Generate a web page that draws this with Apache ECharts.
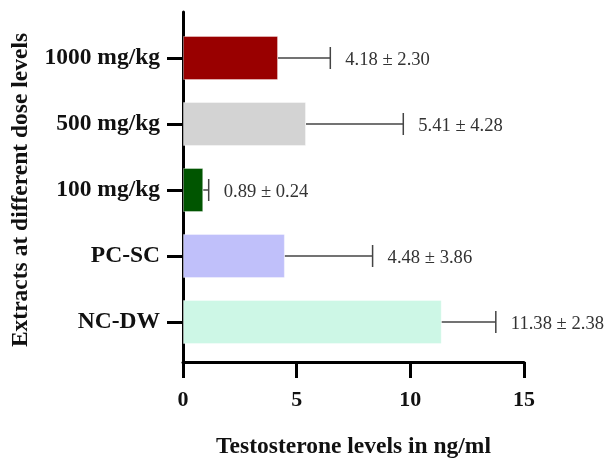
<!DOCTYPE html>
<html>
<head>
<meta charset="utf-8">
<script src="https://cdn.jsdelivr.net/npm/echarts@6/dist/echarts.min.js"></script>
<style>html,body{margin:0;padding:0;background:#fff;}#c{width:609px;height:464px;}</style>
</head>
<body>
<div id="c"></div>
<script>
const categories = ['NC-DW', 'PC-SC', '100 mg/kg', '500 mg/kg', '1000 mg/kg'];
const means = [11.38, 4.48, 0.89, 5.41, 4.18];
const errors = [2.38, 3.86, 0.24, 4.28, 2.30];
const barColors = ['#cdf7e6', '#c0c0fa', '#005500', '#d3d3d3', '#990000'];
const xTicks = [0, 5, 10, 15];

const serif = '"Liberation Serif", "Times New Roman", serif';
const chart = echarts.init(document.getElementById('c'));

const errData = categories.map((c, i) => [i, means[i], errors[i]]);

chart.setOption({
  animation: false,
  grid: [
    { left: 183, top: 25, width: 341, height: 330 },
    { left: 183, top: 12, width: 341, height: 352 }
  ],
  xAxis: [
    { gridIndex: 0, type: 'value', min: xTicks[0], max: xTicks[xTicks.length - 1], interval: 5, show: false },
    {
      gridIndex: 1, type: 'value', min: xTicks[0], max: xTicks[xTicks.length - 1], interval: 5,
      axisLine: { show: true, lineStyle: { color: '#000', width: 3 } },
      axisTick: { show: true, length: 16, lineStyle: { color: '#000', width: 3 } },
      axisLabel: { margin: 27, color: '#111', fontFamily: serif, fontWeight: 'bold', fontSize: 22 },
      splitLine: { show: false },
      name: 'Testosterone levels in ng/ml', nameLocation: 'middle', nameGap: 73,
      nameTextStyle: { color: '#111', fontFamily: serif, fontWeight: 'bold', fontSize: 23.5 }
    }
  ],
  yAxis: [
    {
      gridIndex: 0, type: 'category', data: categories,
      axisLine: { show: false },
      axisTick: { show: true, alignWithLabel: true, length: 16, lineStyle: { color: '#000', width: 3 } },
      axisLabel: { margin: 23, color: '#111', fontFamily: serif, fontWeight: 'bold', fontSize: 23.5 },
      name: 'Extracts at different dose levels', nameLocation: 'middle', nameGap: 150,
      nameTextStyle: { color: '#111', fontFamily: serif, fontWeight: 'bold', fontSize: 23.5 }
    },
    {
      gridIndex: 1, type: 'value', min: 0, max: 1,
      axisLine: { show: true, lineStyle: { color: '#000', width: 3 } },
      axisTick: { show: false }, axisLabel: { show: false }, splitLine: { show: false }
    }
  ],
  series: [
    {
      type: 'bar', xAxisIndex: 0, yAxisIndex: 0, barWidth: 44,
      data: means.map((v, i) => ({ value: v, itemStyle: { color: barColors[i], borderColor: 'rgba(255,255,255,0.35)', borderWidth: 1 } })),
      z: 2
    },
    {
      type: 'custom', xAxisIndex: 0, yAxisIndex: 0, z: 3,
      data: errData,
      encode: { x: 1, y: 0 },
      renderItem: function (params, api) {
        const cat = api.value(0), m = api.value(1), e = api.value(2);
        const p0 = api.coord([m, cat]);
        const p1 = api.coord([m + e, cat]);
        const cap = 11;
        const style = { stroke: '#444', lineWidth: 1.5 };
        return {
          type: 'group',
          children: [
            { type: 'line', shape: { x1: p0[0], y1: p0[1], x2: p1[0], y2: p1[1] }, style: style },
            { type: 'line', shape: { x1: p1[0], y1: p1[1] - cap, x2: p1[0], y2: p1[1] + cap }, style: style },
            { type: 'text', x: p1[0] + 15, y: p1[1] + 2,
              style: { text: m.toFixed(2) + ' ± ' + e.toFixed(2), fill: '#333', font: '18.6px ' + serif, verticalAlign: 'middle', align: 'left' } }
          ]
        };
      }
    }
  ]
});
</script>
</body>
</html>
